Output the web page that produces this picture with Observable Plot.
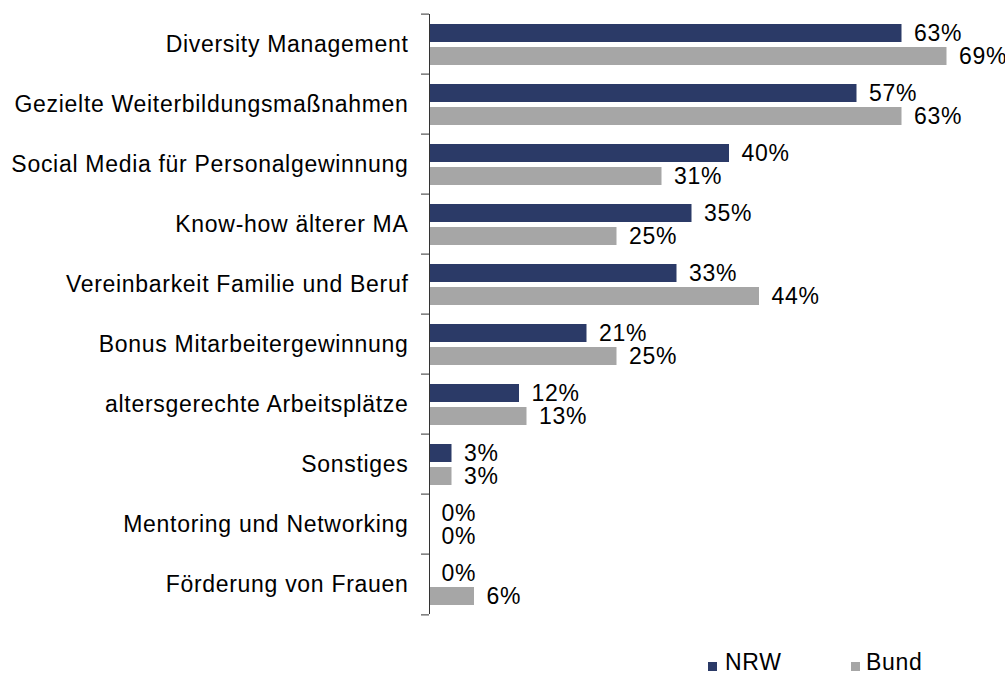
<!DOCTYPE html>
<html>
<head>
<meta charset="utf-8">
<script src="https://cdn.jsdelivr.net/npm/d3@7"></script>
<script src="https://cdn.jsdelivr.net/npm/@observablehq/plot@0.6"></script>
<style>
  html, body { margin: 0; padding: 0; background: #fff; }
  #wrap { width: 1005px; font-family: "Liberation Sans", Arial, sans-serif; }
  #legend { position: relative; width: 1005px; height: 34px; font-size: 23px; letter-spacing: 0.7px; color: #000; }
  #legend .sw { position: absolute; width: 9px; height: 9px; }
  #legend .lb { position: absolute; line-height: 23px; white-space: nowrap; }
</style>
</head>
<body>
<div id="wrap"></div>
<script>
const categories = [
  "Diversity Management",
  "Gezielte Weiterbildungsmaßnahmen",
  "Social Media für Personalgewinnung",
  "Know-how älterer MA",
  "Vereinbarkeit Familie und Beruf",
  "Bonus Mitarbeitergewinnung",
  "altersgerechte Arbeitsplätze",
  "Sonstiges",
  "Mentoring und Networking",
  "Förderung von Frauen"
];
const seriesNames = ["NRW", "Bund"];
const nrwValues  = [63, 57, 40, 35, 33, 21, 12, 3, 0, 0];
const bundValues = [69, 63, 31, 25, 44, 25, 13, 3, 0, 6];
const seriesColors = ["#2B3A67", "#A6A6A6"];

const data = categories.flatMap((c, i) => [
  {category: c, series: seriesNames[0], value: nrwValues[i]},
  {category: c, series: seriesNames[1], value: bundValues[i]}
]);

const W = 1005, H = 640, mTop = 10, mBottom = 22, mLeft = 429, mRight = 6;
const band = (H - mTop - mBottom) / categories.length;

const chart = Plot.plot({
  width: W,
  height: H,
  marginTop: mTop,
  marginBottom: mBottom,
  marginLeft: mLeft,
  marginRight: mRight,
  style: {fontFamily: "'Liberation Sans', Arial, sans-serif", fontSize: "23px", letterSpacing: "0.7px", color: "#000", background: "#fff", overflow: "visible"},
  x: {domain: [0, 76], axis: null},
  fy: {domain: categories, padding: 0, axis: null},
  y: {domain: seriesNames, paddingInner: 0.22, paddingOuter: 0.37, axis: null},
  color: {domain: seriesNames, range: seriesColors},
  marks: [
    Plot.barX(data, {fy: "category", y: "series", x: "value", fill: "series"}),
    Plot.text(data, {fy: "category", y: "series", x: "value", text: d => `${d.value}%`, textAnchor: "start", dx: 12, fill: "#000"}),
    Plot.ruleX([0], {stroke: "#333", strokeWidth: 1}),
    Plot.axisFy({anchor: "left", tickSize: 0, tickPadding: 21, label: null, fill: "#000"}),
    Plot.axisFy({anchor: "left", tickSize: 8, text: null, label: null, dy: -band / 2, stroke: "#333"}),
    Plot.axisFy({anchor: "left", ticks: [categories[categories.length - 1]], tickSize: 8, text: null, label: null, dy: band / 2, stroke: "#333"})
  ]
});

const wrap = document.getElementById("wrap");
wrap.appendChild(chart);

const legend = document.createElement("div");
legend.id = "legend";
const items = [
  {name: seriesNames[0], color: seriesColors[0], sx: 708, tx: 725},
  {name: seriesNames[1], color: seriesColors[1], sx: 851, tx: 866}
];
for (const it of items) {
  const sw = document.createElement("div");
  sw.className = "sw";
  sw.style.left = it.sx + "px";
  sw.style.top = "22px";
  sw.style.background = it.color;
  legend.appendChild(sw);
  const lb = document.createElement("div");
  lb.className = "lb";
  lb.style.left = it.tx + "px";
  lb.style.top = "11px";
  lb.textContent = it.name;
  legend.appendChild(lb);
}
wrap.appendChild(legend);
</script>
</body>
</html>
